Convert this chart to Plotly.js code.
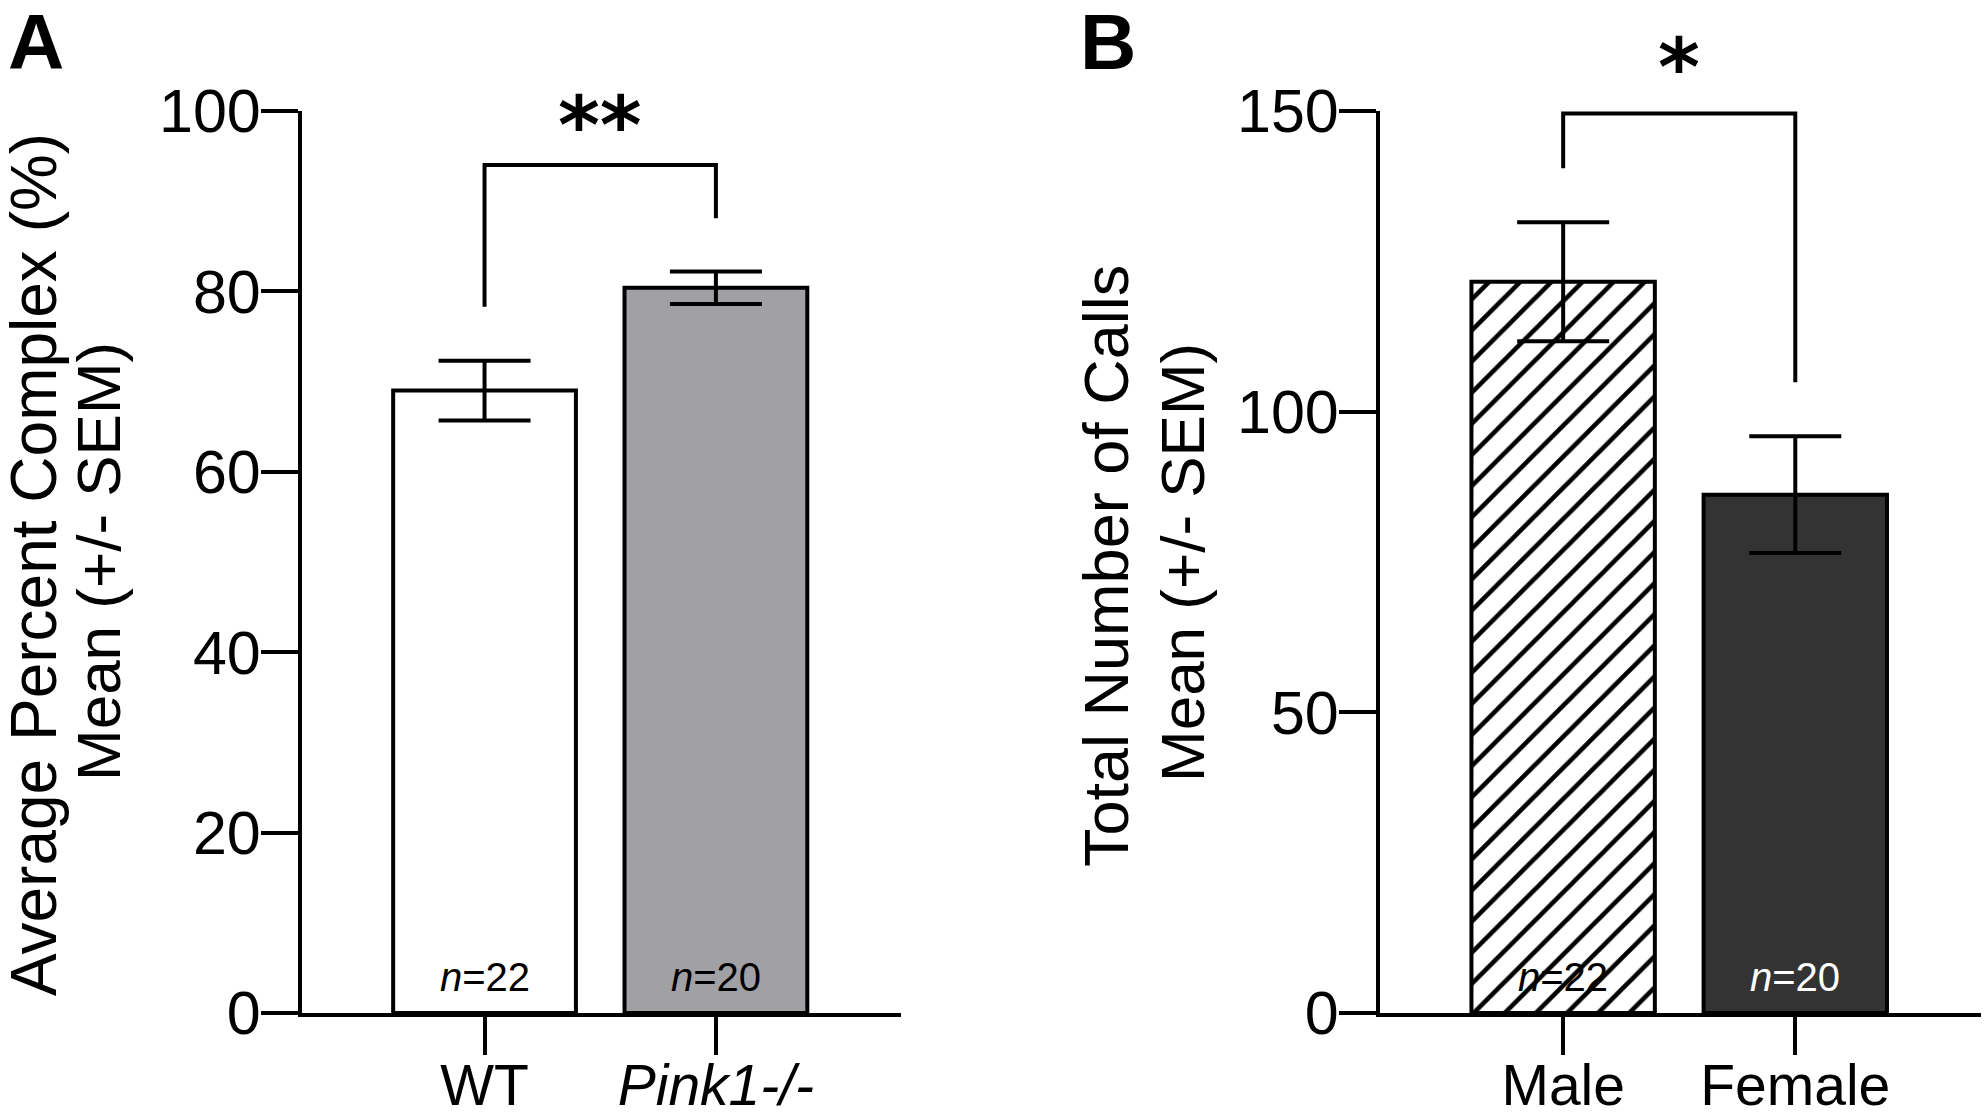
<!DOCTYPE html>
<html>
<head>
<meta charset="utf-8">
<script src="https://cdn.plot.ly/plotly-3.0.1.min.js"></script>
<style>html,body{margin:0;padding:0;background:#fff;}#chart{width:1985px;height:1112px;}</style>
</head>
<body>
<div id="chart"></div>
<script>
// ---- Panel A data ----
const categoriesA = ['WT', 'Pink1-/-'];
const tickLabelsA = ['WT', '<i>Pink1-/-</i>'];
const meanA = [69.0, 80.4];
const semA = [3.3, 1.8];
const nA = [22, 20];
const yTicksA = [0, 20, 40, 60, 80, 100];
const bracketA = [78.3, 94.0, 88.1];   // left leg bottom, top, right leg bottom
const sigA = '**';

// ---- Panel B data ----
const categoriesB = ['Male', 'Female'];
const tickLabelsB = ['Male', 'Female'];
const meanB = [121.6, 86.2];
const semB = [9.9, 9.7];
const nB = [22, 20];
const yTicksB = [0, 50, 100, 150];
const bracketB = [140.5, 149.6, 104.9];
const sigB = '*';

const FONT = 'Liberation Sans, Arial, Helvetica, sans-serif';
const W = 1985, H = 1112;

const errStyle = { type: 'data', visible: true, color: '#000', thickness: 4, width: 46 };

const traceA = {
  type: 'bar', x: categoriesA, y: meanA, xaxis: 'x', yaxis: 'y',
  width: 0.79,
  marker: { color: ['#ffffff', '#a1a0a5'], line: { color: '#000', width: 4 } },
  error_y: Object.assign({ array: semA }, errStyle),
  hoverinfo: 'skip'
};
const traceB1 = {
  type: 'bar', x: [categoriesB[0]], y: [meanB[0]], xaxis: 'x2', yaxis: 'y2',
  width: 0.79,
  marker: {
    color: '#ffffff',
    line: { color: '#000', width: 4 },
    pattern: { shape: '/', fgcolor: '#000000', bgcolor: '#ffffff', size: 22, solidity: 0.21, fillmode: 'replace' }
  },
  error_y: Object.assign({ array: [semB[0]] }, errStyle),
  hoverinfo: 'skip'
};
const traceB2 = {
  type: 'bar', x: [categoriesB[1]], y: [meanB[1]], xaxis: 'x2', yaxis: 'y2',
  width: 0.79,
  marker: { color: '#333333', line: { color: '#000', width: 4 } },
  error_y: Object.assign({ array: [semB[1]] }, errStyle),
  hoverinfo: 'skip'
};

function bracketPath(b) {
  return 'M 0 ' + b[0] + ' L 0 ' + b[1] + ' L 1 ' + b[1] + ' L 1 ' + b[2];
}

const yDom = [99 / H, 1001 / H];
const axisCommon = {
  showline: true, linecolor: '#000', linewidth: 4, mirror: false,
  ticks: 'outside', tickcolor: '#000', tickwidth: 4,
  showgrid: false, zeroline: false,
  tickfont: { family: FONT, size: 57, color: '#000' }
};
const yTickFont = { family: FONT, size: 61, color: '#000' };

const layout = {
  width: W, height: H,
  margin: { l: 0, r: 0, t: 0, b: 0 },
  paper_bgcolor: '#fff', plot_bgcolor: '#fff',
  showlegend: false,
  barmode: 'overlay',
  xaxis: Object.assign({}, axisCommon, {
    domain: [302 / W, 901 / W], range: [-0.789, 1.80], anchor: 'y',
    tickmode: 'array', tickvals: categoriesA, ticktext: tickLabelsA, ticklen: 38, ticklabelstandoff: -18
  }),
  yaxis: Object.assign({}, axisCommon, {
    domain: yDom, range: [0, 100], anchor: 'x',
    tickmode: 'array', tickvals: yTicksA, ticklen: 37, ticklabelstandoff: -12, tickfont: yTickFont
  }),
  xaxis2: Object.assign({}, axisCommon, {
    domain: [1380 / W, 1981 / W], range: [-0.789, 1.80], anchor: 'y2',
    tickmode: 'array', tickvals: categoriesB, ticktext: tickLabelsB, ticklen: 38, ticklabelstandoff: -18
  }),
  yaxis2: Object.assign({}, axisCommon, {
    domain: yDom, range: [0, 150], anchor: 'x2',
    tickmode: 'array', tickvals: yTicksB, ticklen: 37, ticklabelstandoff: -12, tickfont: yTickFont
  }),
  shapes: [
    { type: 'path', xref: 'x', yref: 'y', path: bracketPath(bracketA), line: { color: '#000', width: 4 } },
    { type: 'path', xref: 'x2', yref: 'y2', path: bracketPath(bracketB), line: { color: '#000', width: 4 } }
  ],
  annotations: [
    // panel letters
    { xref: 'paper', yref: 'paper', x: 6 / W, y: 1 + 4 / H, xanchor: 'left', yanchor: 'top', showarrow: false,
      text: '<b>A</b>', font: { family: FONT, size: 78, color: '#000' } },
    { xref: 'paper', yref: 'paper', x: 1078 / W, y: 1 + 4 / H, xanchor: 'left', yanchor: 'top', showarrow: false,
      text: '<b>B</b>', font: { family: FONT, size: 78, color: '#000' } },
    // y titles A
    { xref: 'paper', yref: 'paper', x: 34 / W, y: 1 - 565 / H, xanchor: 'center', yanchor: 'middle', textangle: -90, showarrow: false,
      text: 'Average Percent Complex (%)', font: { family: FONT, size: 64, color: '#000' } },
    { xref: 'paper', yref: 'paper', x: 98 / W, y: 1 - 562 / H, xanchor: 'center', yanchor: 'middle', textangle: -90, showarrow: false,
      text: 'Mean (+/- SEM)', font: { family: FONT, size: 62, color: '#000' } },
    // y titles B
    { xref: 'paper', yref: 'paper', x: 1106 / W, y: 1 - 566 / H, xanchor: 'center', yanchor: 'middle', textangle: -90, showarrow: false,
      text: 'Total Number of Calls', font: { family: FONT, size: 63, color: '#000' } },
    { xref: 'paper', yref: 'paper', x: 1182 / W, y: 1 - 563 / H, xanchor: 'center', yanchor: 'middle', textangle: -90, showarrow: false,
      text: 'Mean (+/- SEM)', font: { family: FONT, size: 62, color: '#000' } },
    // significance
    { xref: 'x', yref: 'paper', x: 0.5, y: 1 - 126 / H, xanchor: 'center', yanchor: 'middle', showarrow: false,
      text: '<b>' + sigA + '</b>', font: { family: 'DejaVu Sans', size: 80, color: '#000' } },
    { xref: 'x2', yref: 'paper', x: 0.5, y: 1 - 68 / H, xanchor: 'center', yanchor: 'middle', showarrow: false,
      text: '<b>' + sigB + '</b>', font: { family: 'DejaVu Sans', size: 80, color: '#000' } }
  ]
};

// n labels
categoriesA.forEach((c, i) => layout.annotations.push({
  xref: 'x', yref: 'y', x: c, y: 4.0, xanchor: 'center', yanchor: 'middle', showarrow: false,
  text: '<i>n</i>=' + nA[i], font: { family: FONT, size: 40, color: '#000' }
}));
categoriesB.forEach((c, i) => layout.annotations.push({
  xref: 'x2', yref: 'y2', x: c, y: 6.0, xanchor: 'center', yanchor: 'middle', showarrow: false,
  text: '<i>n</i>=' + nB[i], font: { family: FONT, size: 40, color: i === 1 ? '#ffffff' : '#000' }
}));

Plotly.newPlot('chart', [traceA, traceB1, traceB2], layout, { displayModeBar: false, staticPlot: true });
</script>
</body>
</html>
